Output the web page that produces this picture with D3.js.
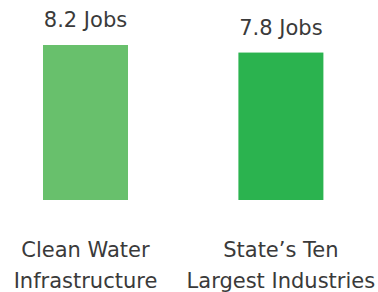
<!DOCTYPE html>
<html>
<head>
<meta charset="utf-8">
<script src="https://cdn.jsdelivr.net/npm/d3@7"></script>
<style>
  body { margin: 0; background: #fff; }
  text { font-family: "DejaVu Sans", sans-serif; fill: #3a3a3a; }
</style>
</head>
<body>
<script>
var width = 378;
var height = 292;

// chart data
var categories = ['Clean Water|Infrastructure', 'State\u2019s Ten|Largest Industries'];
var jobs = [8.2, 7.8];
var valueLabels = ['8.2 Jobs', '7.8 Jobs'];
var colors = ['#68c06c', '#2bb34f'];

var svg = d3.select('body').append('svg')
  .attr('width', width)
  .attr('height', height);

var x = d3.scaleBand()
  .domain(categories)
  .range([43, 323.4])
  .paddingInner(0.565)
  .paddingOuter(0);

var y = d3.scaleLinear()
  .domain([0, 8.2])
  .range([200, 45]);

svg.selectAll('rect.bar')
  .data(categories)
  .enter().append('rect')
  .attr('class', 'bar')
  .attr('x', function(d) { return x(d); })
  .attr('width', x.bandwidth())
  .attr('y', function(d, i) { return y(jobs[i]); })
  .attr('height', function(d, i) { return y(0) - y(jobs[i]); })
  .style('fill', function(d, i) { return colors[i]; });

// value labels above bars
svg.selectAll('text.value')
  .data(categories)
  .enter().append('text')
  .attr('class', 'value')
  .attr('x', function(d) { return x(d) + x.bandwidth() / 2; })
  .attr('y', function(d, i) { return y(jobs[i]) - 18; })
  .attr('text-anchor', 'middle')
  .style('font-size', '21px')
  .text(function(d, i) { return valueLabels[i]; });

// category labels, two lines each
var cat = svg.selectAll('text.cat')
  .data(categories)
  .enter().append('text')
  .attr('class', 'cat')
  .attr('text-anchor', 'middle')
  .style('font-size', '21px');

cat.selectAll('tspan')
  .data(function(d) { return d.split('|').map(function(t) { return { t: t, c: d }; }); })
  .enter().append('tspan')
  .attr('x', function(d) { return x(d.c) + x.bandwidth() / 2; })
  .attr('y', function(d, i) { return 257 + i * 31; })
  .text(function(d) { return d.t; });
</script>
</body>
</html>
